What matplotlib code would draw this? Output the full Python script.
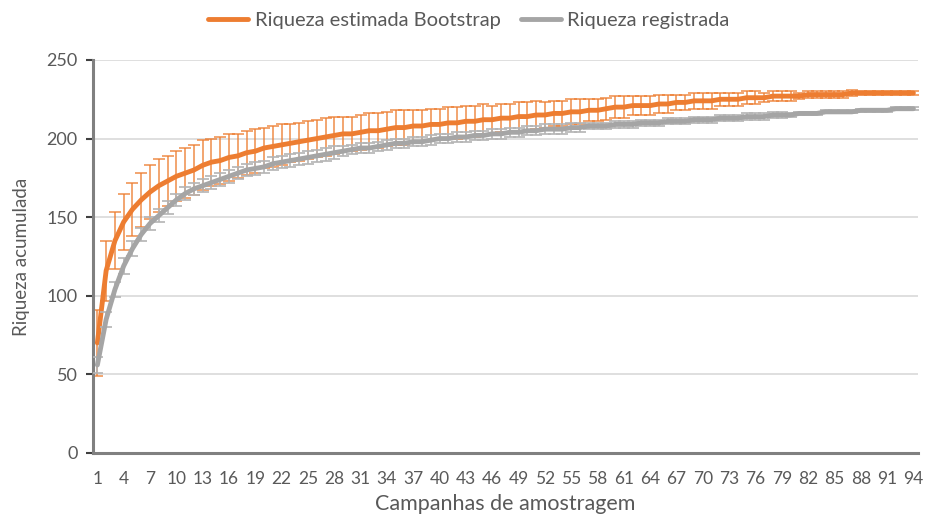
import matplotlib
matplotlib.use("Agg")
import matplotlib.pyplot as plt

plt.rcParams["font.family"] = ["Lato", "DejaVu Sans"]

# Campanhas de amostragem 1..94
campanhas = list(range(1, 95))

# Riqueza estimada Bootstrap (media)
bootstrap = [
    70, 116, 135, 147, 155, 161, 166, 170, 173, 176,
    178, 180, 183, 185, 186, 188, 189, 191, 192, 194,
    195, 196, 197, 198, 199, 200, 201, 202, 203, 203,
    204, 205, 205, 206, 207, 207, 208, 208, 209, 209,
    210, 210, 211, 211, 212, 212, 213, 213, 214, 214,
    215, 215, 216, 216, 217, 217, 218, 218, 219, 220,
    220, 221, 221, 221, 222, 222, 223, 223, 224, 224,
    224, 225, 225, 225, 226, 226, 226, 227, 227, 227,
    227, 228, 228, 228, 228, 228, 229, 229, 229, 229,
    229, 229, 229, 229,
]
bootstrap_dp = [
    21, 19, 18, 18, 17, 17, 17, 17, 16, 16,
    16, 16, 16, 15, 15, 15, 14, 14, 14, 13,
    13, 13, 12, 12, 12, 12, 12, 12, 11, 11,
    11, 11, 11, 11, 11, 11, 10, 10, 10, 10,
    10, 10, 10, 10, 10, 9, 9, 9, 9, 9,
    9, 8, 8, 8, 8, 8, 7, 7, 7, 7,
    7, 6, 6, 6, 6, 6, 5, 5, 5, 5,
    5, 4, 4, 4, 4, 4, 3, 3, 3, 3,
    2, 2, 2, 2, 2, 2, 2, 1, 1, 1,
    1, 1, 1, 1,
]

# Riqueza registrada (media)
registrada = [
    56, 85, 104, 119, 130, 139, 146, 151, 156, 161,
    165, 168, 170, 172, 174, 176, 178, 180, 181, 182,
    184, 185, 186, 187, 188, 189, 190, 191, 192, 193,
    194, 194, 195, 196, 197, 197, 198, 198, 199, 200,
    200, 201, 201, 202, 202, 203, 203, 204, 204, 205,
    205, 206, 206, 206, 207, 207, 208, 208, 208, 209,
    209, 209, 210, 210, 210, 211, 211, 211, 212, 212,
    212, 213, 213, 213, 214, 214, 214, 215, 215, 215,
    216, 216, 216, 217, 217, 217, 217, 218, 218, 218,
    218, 219, 219, 219,
]
registrada_dp = [
    5, 5, 5, 5, 5, 4, 4, 4, 4, 4,
    4, 4, 4, 4, 4, 4, 4, 4, 4, 4,
    4, 4, 4, 4, 4, 4, 4, 4, 3, 3,
    3, 3, 3, 3, 3, 3, 3, 3, 3, 3,
    3, 3, 3, 3, 3, 3, 3, 3, 3, 3,
    3, 3, 3, 3, 3, 3, 2, 2, 2, 2,
    2, 2, 2, 2, 2, 2, 2, 2, 2, 2,
    2, 2, 2, 2, 2, 2, 2, 2, 2, 1,
    1, 1, 1, 1, 1, 1, 1, 1, 1, 1,
    1, 1, 1, 1,
]

laranja = "#ED7D31"
cinza = "#A5A5A5"
texto = "#595959"

fig = plt.figure(figsize=(9.28, 5.17), dpi=100)
ax = fig.add_axes([0.1002, 0.1238, 0.8888, 0.7602])

# Riqueza estimada Bootstrap
ax.errorbar(campanhas, bootstrap, yerr=bootstrap_dp, fmt="none",
            ecolor=laranja, elinewidth=1.3, capsize=4, capthick=1.3,
            alpha=0.75, zorder=2)
ax.plot(campanhas, bootstrap, color=laranja, lw=3.5, zorder=3,
        label="Riqueza estimada Bootstrap", solid_capstyle="round")

# Riqueza registrada
ax.errorbar(campanhas, registrada, yerr=registrada_dp, fmt="none",
            ecolor="#B4B4B4", elinewidth=1.2, capsize=4, capthick=1.2,
            zorder=4)
ax.plot(campanhas, registrada, color=cinza, lw=3.5, zorder=5,
        label="Riqueza registrada", solid_capstyle="round")

ax.set_xlim(0.5, 94.5)
ax.set_ylim(0, 250)
ax.set_yticks(range(0, 251, 50))
ax.set_xticks(campanhas[::3])
ax.set_xticklabels([str(c) for c in campanhas[::3]])

ax.yaxis.grid(True, color="#D9D9D9", lw=1.2)
ax.set_axisbelow(True)
for lado in ["top", "right"]:
    ax.spines[lado].set_visible(False)
for lado in ["left", "bottom"]:
    ax.spines[lado].set_color("#808080")
    ax.spines[lado].set_linewidth(2.2)

ax.tick_params(axis="y", direction="out", length=5, width=1.5,
               color="#404040", labelcolor=texto, labelsize=13, pad=6)
ax.tick_params(axis="x", length=0, labelcolor=texto, labelsize=12.5, pad=13)

ax.set_xlabel("Campanhas de amostragem", color=texto, fontsize=15.5, labelpad=5)
ax.set_ylabel("Riqueza acumulada", color=texto, fontsize=13.5, labelpad=12)

fig.legend(loc="center", bbox_to_anchor=(0.505, 0.961), ncol=2,
           frameon=False, fontsize=14.5, labelcolor=texto,
           handlelength=2.0, handletextpad=0.3, columnspacing=1.0)

fig.savefig("out.png", dpi=100)
